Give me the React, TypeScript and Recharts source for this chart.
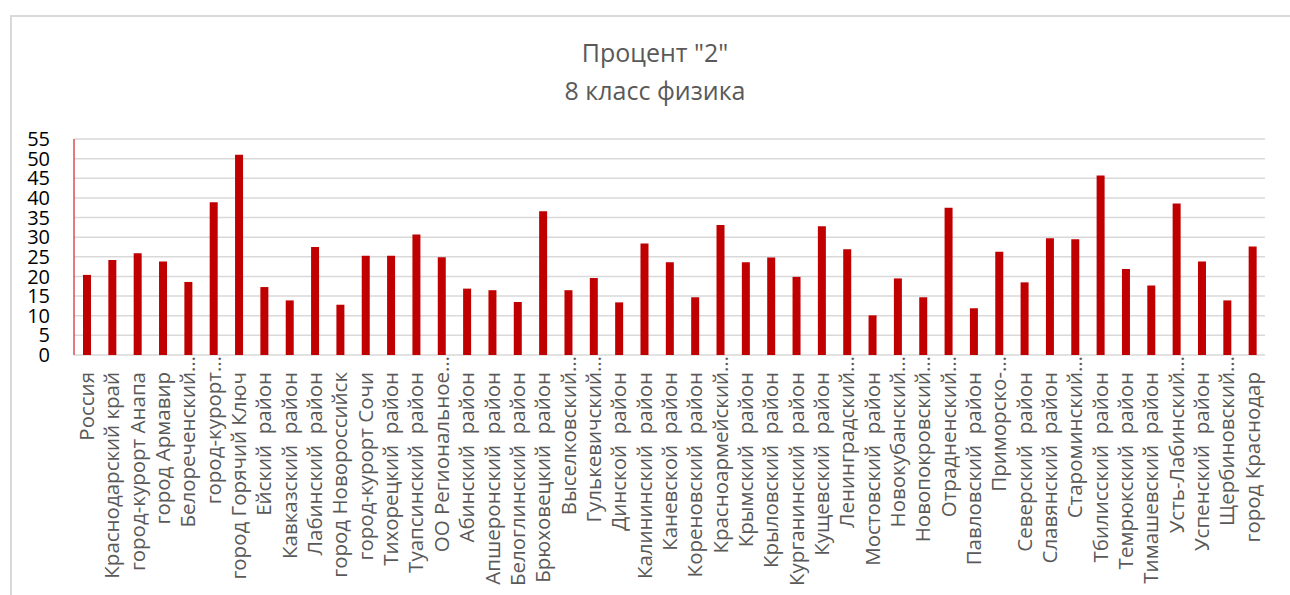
import React from "react";
import { BarChart, Bar, XAxis, YAxis, CartesianGrid } from "recharts";

const titleLines = ['Процент "2"', "8 класс физика"];

const categories = [
  "Россия",
  "Краснодарский край",
  "город-курорт Анапа",
  "город Армавир",
  "Белореченский…",
  "город-курорт…",
  "город Горячий Ключ",
  "Ейский  район",
  "Кавказский  район",
  "Лабинский  район",
  "город Новороссийск",
  "город-курорт Сочи",
  "Тихорецкий  район",
  "Туапсинский  район",
  "ОО Региональное…",
  "Абинский  район",
  "Апшеронский  район",
  "Белоглинский  район",
  "Брюховецкий  район",
  "Выселковский…",
  "Гулькевичский…",
  "Динской  район",
  "Калининский  район",
  "Каневской  район",
  "Кореновский  район",
  "Красноармейский…",
  "Крымский  район",
  "Крыловский  район",
  "Курганинский  район",
  "Кущевский  район",
  "Ленинградский…",
  "Мостовский  район",
  "Новокубанский…",
  "Новопокровский…",
  "Отрадненский…",
  "Павловский  район",
  "Приморско-…",
  "Северский  район",
  "Славянский  район",
  "Староминский…",
  "Тбилисский  район",
  "Темрюкский  район",
  "Тимашевский  район",
  "Усть-Лабинский…",
  "Успенский  район",
  "Щербиновский…",
  "город Краснодар",
];

const percent2 = [
  20.4, 24.2, 25.9, 23.8, 18.6, 38.9, 51.0, 17.3, 13.9, 27.5, 12.8, 25.3, 25.3,
  30.7, 24.9, 16.9, 16.5, 13.5, 36.6, 16.5, 19.6, 13.4, 28.4, 23.6, 14.7, 33.1,
  23.6, 24.8, 19.9, 32.8, 26.9, 10.1, 19.5, 14.7, 37.5, 11.9, 26.3, 18.5, 29.7,
  29.5, 45.7, 21.9, 17.7, 38.6, 23.8, 13.9, 27.6,
];

const yTicks = [0, 5, 10, 15, 20, 25, 30, 35, 40, 45, 50, 55];

const data = categories.map((name, i) => ({ name, value: percent2[i] }));

const FONT = "'Open Sans', 'Noto Sans', sans-serif";

const XTick = (props: any) => {
  const { x, y, payload } = props;
  const label: string = payload.value;
  const truncated = label.endsWith("…");
  const main = truncated ? label.slice(0, -1) : label;
  const off = 17;
  return (
    <g transform={`translate(${x},${y + off})`}>
      <text
        x={0}
        y={0}
        dy="0.36em"
        textAnchor="end"
        transform="rotate(-90)"
        fill="#595959"
        fontSize={20.5}
        fontFamily={FONT}
        style={{ whiteSpace: "pre" }}
      >
        {main}
      </text>
      {truncated && (
        <text
          x={0}
          y={0}
          dy="0.36em"
          textAnchor="start"
          transform="rotate(-90)"
          fill="#595959"
          fontSize={20.5}
          fontFamily={FONT}
        >
          …
        </text>
      )}
    </g>
  );
};

export default function App() {
  return (
    <div
      style={{
        position: "absolute",
        left: 0,
        top: 0,
        width: 1290,
        height: 595,
        background: "#fff",
        overflow: "hidden",
      }}
    >
      <div
        style={{
          position: "absolute",
          left: 10,
          top: 15,
          width: 1320,
          height: 620,
          border: "2px solid #d9d9d9",
          boxSizing: "border-box",
        }}
      />
      {titleLines.map((t, i) => (
        <div
          key={i}
          style={{
            position: "absolute",
            left: 0,
            width: 1310,
            top: i === 0 ? 35 : 73,
            height: 34,
            lineHeight: "34px",
            textAlign: "center",
            fontFamily: FONT,
            fontSize: 25,
            color: "#595959",
          }}
        >
          {t}
        </div>
      ))}
      <div style={{ position: "absolute", left: 0, top: 0 }}>
        <BarChart
          width={1290}
          height={595}
          data={data}
          margin={{ top: 139, right: 25, left: 0, bottom: 0 }}
          barSize={8}
        >
          <CartesianGrid
            horizontal={true}
            vertical={false}
            stroke="#d9d9d9"
            strokeWidth={1.5}
          />
          <XAxis
            dataKey="name"
            interval={0}
            axisLine={false}
            tickLine={false}
            tickSize={0}
            tickMargin={0}
            height={240}
            tick={<XTick />}
          />
          <YAxis
            width={74}
            domain={[0, 55]}
            ticks={yTicks}
            interval={0}
            axisLine={{ stroke: "#d85050", strokeWidth: 1.5 }}
            tickLine={false}
            tickSize={0}
            tickMargin={24}
            tick={{ fill: "#000", fontSize: 20, fontFamily: FONT }}
          />
          <Bar dataKey="value" fill="#c00000" isAnimationActive={false} />
        </BarChart>
      </div>
    </div>
  );
}
